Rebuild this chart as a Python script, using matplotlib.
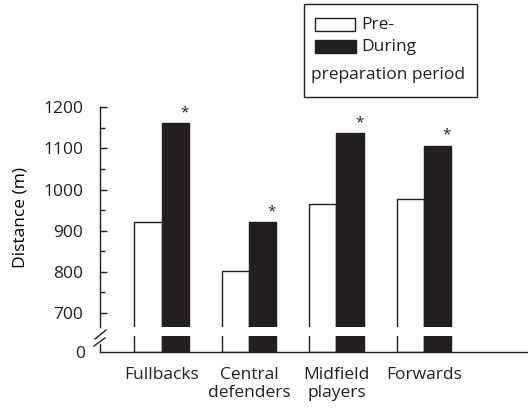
import matplotlib
matplotlib.use("Agg")
import matplotlib.pyplot as plt
from matplotlib.patches import Rectangle
from matplotlib.lines import Line2D
import numpy as np

# === Data ===
categories = ["Fullbacks", "Central\ndefenders", "Midfield\nplayers", "Forwards"]
pre_values = [922, 801, 964, 977]
during_values = [1161, 920, 1137, 1107]
significant = [True, True, True, True]

yticks_major = [700, 800, 900, 1000, 1100, 1200]
yticks_minor = [750, 850, 950, 1050, 1150]

INK = "#231f20"
W, H = 528, 412

plt.rcParams["font.family"] = ["Open Sans", "DejaVu Sans"]
plt.rcParams["font.size"] = 12.5
plt.rcParams["text.color"] = INK
plt.rcParams["axes.edgecolor"] = INK
plt.rcParams["xtick.color"] = INK
plt.rcParams["ytick.color"] = INK


def fx(px):
    return px / W


def fy(py):
    return 1 - py / H


fig = plt.figure(figsize=(W / 100, H / 100), dpi=100)

# upper (broken) axis and lower stub near zero
ax_top = fig.add_axes([fx(100), fy(327), fx(428), fy(107.3) - fy(327)])
ax_bot = fig.add_axes([fx(100), fy(351.7), fx(428), fy(336) - fy(351.7)])

x = np.arange(len(categories))
bw = 0.31
xlim = (-0.703, 4.189)

for ax in (ax_top, ax_bot):
    ax.bar(x - bw, pre_values, width=bw, align="edge", color="white",
           edgecolor=INK, linewidth=1.0)
    ax.bar(x, during_values, width=bw, align="edge", color=INK,
           edgecolor=INK, linewidth=1.0)
    ax.set_xlim(*xlim)
    ax.spines["top"].set_visible(False)
    ax.spines["right"].set_visible(False)
    ax.spines["left"].set_linewidth(1.0)

ax_top.set_ylim(666, 1200)
ax_top.spines["bottom"].set_visible(False)
ax_top.set_xticks([])
ax_top.set_yticks(yticks_major)
ax_top.set_yticks(yticks_minor, minor=True)
ax_top.tick_params(axis="y", which="major", direction="in", length=5, width=1.0, pad=12)
ax_top.tick_params(axis="y", which="minor", direction="in", length=3.5, width=1.0)
ax_top.set_ylabel("Distance (m)")
ax_top.yaxis.set_label_coords(-0.166, 0.5)

# significance markers
for xi, v, sig in zip(x, during_values, significant):
    if sig:
        ax_top.text(xi + 0.26, v + 26, "*", ha="center", va="center",
                    fontsize=11, clip_on=False)

ax_bot.set_ylim(0, 40)
ax_bot.spines["left"].set_bounds(0, 19)
ax_bot.set_yticks([0])
ax_bot.set_yticklabels(["0"])
ax_bot.tick_params(axis="y", length=0, pad=11)
ax_bot.spines["bottom"].set_linewidth(1.0)
ax_bot.set_xticks(x)
ax_bot.set_xticklabels(categories, linespacing=1.2)
ax_bot.tick_params(axis="x", length=0, pad=11)

# axis break marks
for (x0, y0), (x1, y1) in [((94, 346), (105, 338)), ((95, 339), (106, 330))]:
    fig.add_artist(Line2D([fx(x0), fx(x1)], [fy(y0), fy(y1)],
                          color=INK, linewidth=1.0))

# legend box drawn by hand
fig.add_artist(Rectangle((fx(304), fy(97)), fx(173), fy(4) - fy(97),
                         facecolor="white", edgecolor=INK, linewidth=1.0))
fig.add_artist(Rectangle((fx(315), fy(31)), fx(40), fy(18) - fy(31),
                         facecolor="white", edgecolor=INK, linewidth=1.0))
fig.add_artist(Rectangle((fx(315), fy(53)), fx(41), fy(40) - fy(53),
                         facecolor=INK, edgecolor=INK, linewidth=1.0))
fig.text(fx(361), fy(25), "Pre-", ha="left", va="center")
fig.text(fx(361), fy(47), "During", ha="left", va="center")
fig.text(fx(311), fy(75), "preparation period", ha="left", va="center")

fig.savefig("out.png", dpi=100)
